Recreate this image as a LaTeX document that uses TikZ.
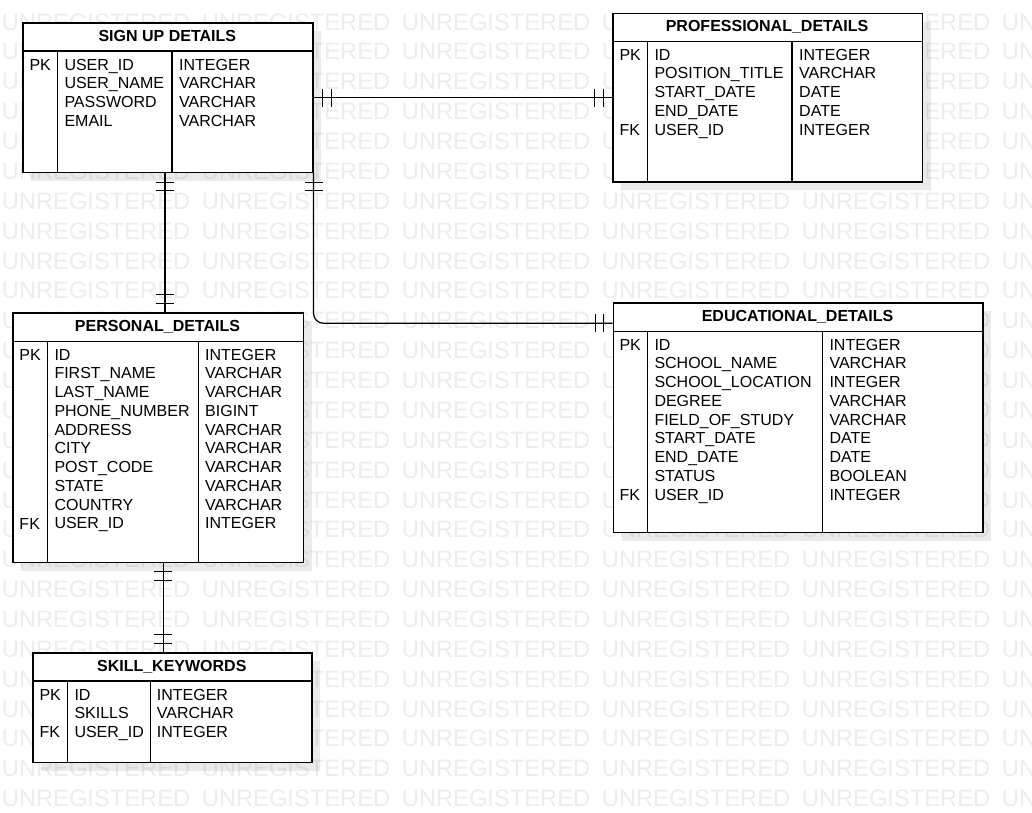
\documentclass[tikz,border=0pt]{standalone}
\usepackage{fontspec}
\setmainfont{Liberation Sans}
\usepackage{tikz}
\usetikzlibrary{calc,shadows,decorations.markings}

\tikzset{
  tablebox/.style={draw, fill=white, line width=1.2pt, inner sep=0pt, anchor=north west,
    drop shadow={shadow xshift=8.5pt, shadow yshift=-8.5pt, fill=black, opacity=0.08}},
  tableline/.style={line width=1.2pt},
  tabletitle/.style={font=\fontsize{16}{18.75}\selectfont\bfseries, inner sep=0pt, anchor=base},
  colcell/.style={font=\fontsize{16}{18.75}\selectfont, inner sep=0pt, align=left, anchor=north west},
  keycell/.style={font=\fontsize{16}{18.75}\selectfont, inner sep=0pt, anchor=base west},
  wmark/.style={font=\fontsize{23.7}{28}\selectfont, text=black!7, inner sep=0pt, anchor=base west},
  onetoone/.style={line width=1.2pt, postaction={decorate}, decoration={markings,
    mark=at position 9pt with {\draw[line width=1pt] (0,-9pt) -- (0,9pt);},
    mark=at position 17.5pt with {\draw[line width=1pt] (0,-9pt) -- (0,9pt);},
    mark=at position -9pt with {\draw[line width=1pt] (0,-9pt) -- (0,9pt);},
    mark=at position -17.5pt with {\draw[line width=1pt] (0,-9pt) -- (0,9pt);}}}
}

\begin{document}
\begin{tikzpicture}[x=1pt, y=-1pt]
  \useasboundingbox (0,0) rectangle (1032,812);
  \fill[white] (0,0) rectangle (1032,812);
  \clip (0,0) rectangle (1032,812);

  % Watermark
  \foreach \r in {0,...,27}
    \foreach \c in {0,...,5}
      \node[wmark] (wm-\r-\c) at (1.7+200*\c, 0.2+29.87*\r) {UNREGISTERED};

  % Sign up details
  \node[tablebox, minimum width=290pt, minimum height=149.7pt] (signup) at (22.3,22.3) {};
  \draw[tableline] (22.3,51) -- (312.3,51);
  \draw[tableline] (57.7,51) -- (57.7,172);
  \draw[tableline] (172,51) -- (172,172);
  \node[tabletitle] (su-title) at (167.3,41) {SIGN UP DETAILS};
  \node[keycell] (su-pk) at (29.3,70.3) {PK};
  \node[colcell] (su-names) at (64.3,58.8) {USER\_ID\\USER\_NAME\\PASSWORD\\EMAIL};
  \node[colcell] (su-types) at (179,58.8) {INTEGER\\VARCHAR\\VARCHAR\\VARCHAR};

  % Professional details
  \node[tablebox, minimum width=309.4pt, minimum height=168.6pt] (prof) at (612.3,12.7) {};
  \draw[tableline] (612.3,41.3) -- (921.7,41.3);
  \draw[tableline] (647.7,41.3) -- (647.7,181.3);
  \draw[tableline] (792,41.3) -- (792,181.3);
  \node[tabletitle] (pr-title) at (767,31.4) {PROFESSIONAL\_DETAILS};
  \node[keycell] (pr-pk) at (619.3,60.3) {PK};
  \node[keycell] (pr-fk) at (619.3,135.3) {FK};
  \node[colcell] (pr-names) at (654.3,48.8) {ID\\POSITION\_TITLE\\START\_DATE\\END\_DATE\\USER\_ID};
  \node[colcell] (pr-types) at (799,48.8) {INTEGER\\VARCHAR\\DATE\\DATE\\INTEGER};

  % Educational details
  \node[tablebox, minimum width=369.6pt, minimum height=229.4pt] (edu) at (612.7,302.3) {};
  \draw[tableline] (612.7,331.3) -- (982.3,331.3);
  \draw[tableline] (647.7,331.3) -- (647.7,531.7);
  \draw[tableline] (822.3,331.3) -- (822.3,531.7);
  \node[tabletitle] (ed-title) at (797.5,321) {EDUCATIONAL\_DETAILS};
  \node[keycell] (ed-pk) at (619.3,350.3) {PK};
  \node[keycell] (ed-fk) at (619.3,500.3) {FK};
  \node[colcell] (ed-names) at (654.3,338.8) {ID\\SCHOOL\_NAME\\SCHOOL\_LOCATION\\DEGREE\\FIELD\_OF\_STUDY\\START\_DATE\\END\_DATE\\STATUS\\USER\_ID};
  \node[colcell] (ed-types) at (829.3,338.8) {INTEGER\\VARCHAR\\INTEGER\\VARCHAR\\VARCHAR\\DATE\\DATE\\BOOLEAN\\INTEGER};

  % Personal details
  \node[tablebox, minimum width=290.4pt, minimum height=249.4pt] (personal) at (12.3,312.3) {};
  \draw[tableline] (12.3,341.3) -- (302.7,341.3);
  \draw[tableline] (47.7,341.3) -- (47.7,561.7);
  \draw[tableline] (198.3,341.3) -- (198.3,561.7);
  \node[tabletitle] (pd-title) at (157.5,331) {PERSONAL\_DETAILS};
  \node[keycell] (pd-pk) at (19.3,360.3) {PK};
  \node[keycell] (pd-fk) at (19.3,529) {FK};
  \node[colcell] (pd-names) at (54.3,348.8) {ID\\FIRST\_NAME\\LAST\_NAME\\PHONE\_NUMBER\\ADDRESS\\CITY\\POST\_CODE\\STATE\\COUNTRY\\USER\_ID};
  \node[colcell] (pd-types) at (205,348.8) {INTEGER\\VARCHAR\\VARCHAR\\BIGINT\\VARCHAR\\VARCHAR\\VARCHAR\\VARCHAR\\VARCHAR\\INTEGER};

  % Skill keywords
  \node[tablebox, minimum width=279pt, minimum height=109.7pt] (skill) at (32.3,652.3) {};
  \draw[tableline] (32.3,681) -- (311.3,681);
  \draw[tableline] (67.7,681) -- (67.7,762);
  \draw[tableline] (150.7,681) -- (150.7,762);
  \node[tabletitle] (sk-title) at (171.8,671) {SKILL\_KEYWORDS};
  \node[keycell] (sk-pk) at (39.3,700.3) {PK};
  \node[keycell] (sk-fk) at (39.3,737.8) {FK};
  \node[colcell] (sk-names) at (74.3,688.8) {ID\\SKILLS\\USER\_ID};
  \node[colcell] (sk-types) at (156.7,688.8) {INTEGER\\VARCHAR\\INTEGER};

  % Relations
  \coordinate (su-down) at ($(signup.south west)+(142.7,0)$);
  \coordinate (pd-down) at ($(personal.south west)+(151,0)$);
  \coordinate (ed-in) at ($(edu.north west)+(0,21)$);
  \draw[onetoone] (signup.east) -- (signup.east -| prof.west);
  \draw[onetoone, rounded corners=10pt] (signup.south east) |- (ed-in);
  \draw[onetoone] (su-down) -- (su-down |- personal.north);
  \draw[onetoone] (pd-down) -- (pd-down |- skill.north);
\end{tikzpicture}
\end{document}
